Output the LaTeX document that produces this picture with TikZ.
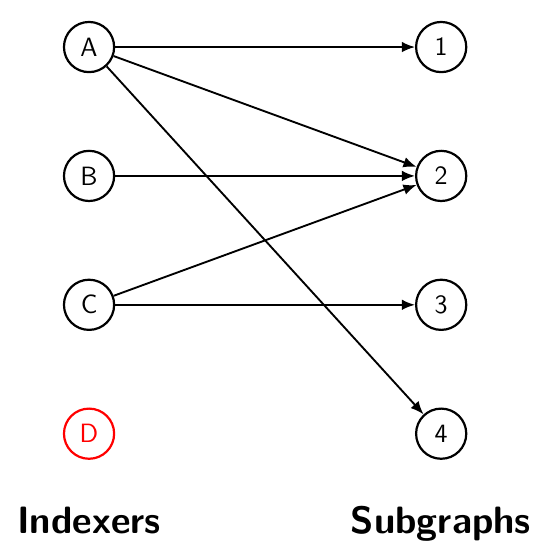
\documentclass[tikz,border=0pt]{standalone}
\usepackage{tikz}
\usetikzlibrary{arrows.meta,positioning}
\renewcommand{\familydefault}{\sfdefault}
\tikzset{
  vertexnode/.style={draw,circle,line width=1pt,minimum size=0.8cm,inner sep=0pt,font=\large},
  idlenode/.style={vertexnode,draw=red,text=red},
  edgearrow/.style={-{Latex[length=2.1mm,width=1.7mm]},line width=0.85pt},
  setlabel/.style={font=\LARGE\bfseries,anchor=base}
}
\begin{document}
\begin{tikzpicture}[node distance=1.22cm and 4.78cm]
  \useasboundingbox (0,0) rectangle (8.85,-8.85);
  % indexers on the left
  \node[vertexnode] (A) at (1.42,-0.75) {A};
  \node[vertexnode,below=of A] (B) {B};
  \node[vertexnode,below=of B] (C) {C};
  \node[idlenode,below=of C] (D) {D};
  % subgraphs on the right
  \node[vertexnode,right=of A] (s1) {1};
  \node[vertexnode,right=of B] (s2) {2};
  \node[vertexnode,right=of C] (s3) {3};
  \node[vertexnode,right=of D] (s4) {4};
  \draw[edgearrow] (A) -- (s1);
  \draw[edgearrow] (A) -- (s2);
  \draw[edgearrow] (A) -- (s4);
  \draw[edgearrow] (B) -- (s2);
  \draw[edgearrow] (C) -- (s2);
  \draw[edgearrow] (C) -- (s3);
  \node[setlabel] (indexers) at (1.42,-8.50) {Indexers};
  \node[setlabel] (subgraphs) at (7.03,-8.50) {Subgraphs};
\end{tikzpicture}
\end{document}
